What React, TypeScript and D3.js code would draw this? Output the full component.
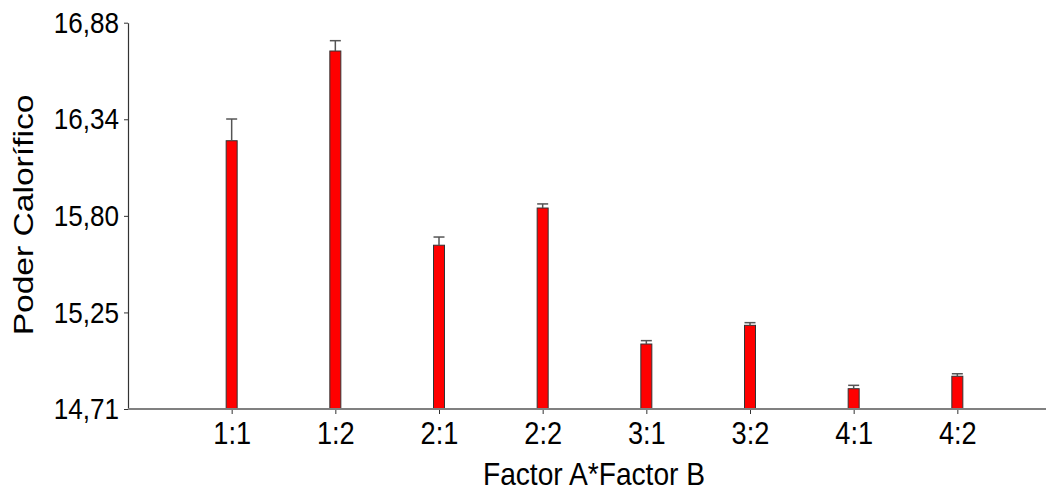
import React, { useEffect, useRef } from 'react';
import { select, scaleLinear, scalePoint, axisLeft, axisBottom } from 'd3';

const categories = ['1:1', '1:2', '2:1', '2:2', '3:1', '3:2', '4:1', '4:2'];
const means = [16.217, 16.721, 15.63, 15.839, 15.075, 15.18, 14.824, 14.894];
const errors = [0.122, 0.058, 0.046, 0.023, 0.019, 0.015, 0.019, 0.014];
const yTickValues = [14.71, 15.2525, 15.795, 16.3375, 16.88];
const yTickLabels = ['14,71', '15,25', '15,80', '16,34', '16,88'];

const width = 1054;
const height = 493;
const FONT = '"Liberation Sans", Arial, sans-serif';

const App = () => {
  const svgRef = useRef<SVGSVGElement>(null);

  useEffect(() => {
    const svg = select(svgRef.current);
    svg.selectAll('*').remove();

    const axisX = 128;
    const baseY = 409;

    const y = scaleLinear().domain([14.71, 16.88]).range([baseY, 22.7]);
    const x = scalePoint<string>().domain(categories).range([axisX, 1061]).padding(1);

    svg.append('rect').attr('width', width).attr('height', height).attr('fill', '#fff');

    // y axis
    const gy = svg.append('g')
      .attr('transform', `translate(${axisX},0)`)
      .call(
        axisLeft(y)
          .tickValues(yTickValues)
          .tickFormat((_d, i) => yTickLabels[i])
          .tickSize(4)
          .tickSizeOuter(0)
      );
    gy.select('.domain').attr('stroke', '#333').attr('stroke-width', 1.2);
    gy.selectAll('.tick line').attr('stroke', '#333');
    gy.selectAll('.tick text')
      .attr('x', 0)
      .attr('transform', 'translate(-9,0) scale(0.87,1)')
      .attr('font-family', FONT)
      .attr('font-size', 30)
      .attr('fill', '#000');

    // x axis
    const gx = svg.append('g')
      .attr('transform', `translate(0,${baseY})`)
      .call(axisBottom(x).tickSize(5).tickSizeOuter(0));
    gx.select('.domain').remove();
    gx.selectAll('.tick line').attr('stroke', '#333');
    gx.selectAll('.tick text')
      .attr('y', 35)
      .attr('dy', 0)
      .attr('transform', 'scale(0.85,1)')
      .attr('font-family', FONT)
      .attr('font-size', 32)
      .attr('fill', '#000');

    // bars
    const bw = 11;
    svg.append('g')
      .selectAll('rect')
      .data(categories)
      .enter()
      .append('rect')
      .attr('x', (d) => (x(d) as number) - bw / 2)
      .attr('y', (_d, i) => y(means[i]))
      .attr('width', bw)
      .attr('height', (_d, i) => y(14.71) - y(means[i]))
      .attr('fill', '#ff0000')
      .attr('stroke', '#333')
      .attr('stroke-width', 1);

    // error bars
    const eg = svg.append('g').attr('stroke', '#555').attr('stroke-width', 1.5);
    categories.forEach((c, i) => {
      const cx = x(c) as number;
      eg.append('line')
        .attr('x1', cx).attr('x2', cx)
        .attr('y1', y(means[i])).attr('y2', y(means[i] + errors[i]));
      eg.append('line')
        .attr('x1', cx - bw / 2).attr('x2', cx + bw / 2)
        .attr('y1', y(means[i] + errors[i])).attr('y2', y(means[i] + errors[i]));
    });

    // baseline
    svg.append('line')
      .attr('x1', axisX).attr('x2', 1046)
      .attr('y1', baseY).attr('y2', baseY)
      .attr('stroke', '#808080')
      .attr('stroke-width', 2);

    // titles
    svg.append('text')
      .attr('transform', 'translate(594,485) scale(0.88,1)')
      .attr('text-anchor', 'middle')
      .attr('font-family', FONT)
      .attr('font-size', 32)
      .text('Factor A*Factor B');

    svg.append('text')
      .attr('transform', 'translate(33,215) rotate(-90) scale(1.2,1)')
      .attr('text-anchor', 'middle')
      .attr('font-family', FONT)
      .attr('font-size', 28)
      .text('Poder Calorífico');
  }, []);

  return (
    <svg
      ref={svgRef}
      width={width}
      height={height}
      style={{ position: 'absolute', left: 0, top: 0 }}
    />
  );
};

export default App;
